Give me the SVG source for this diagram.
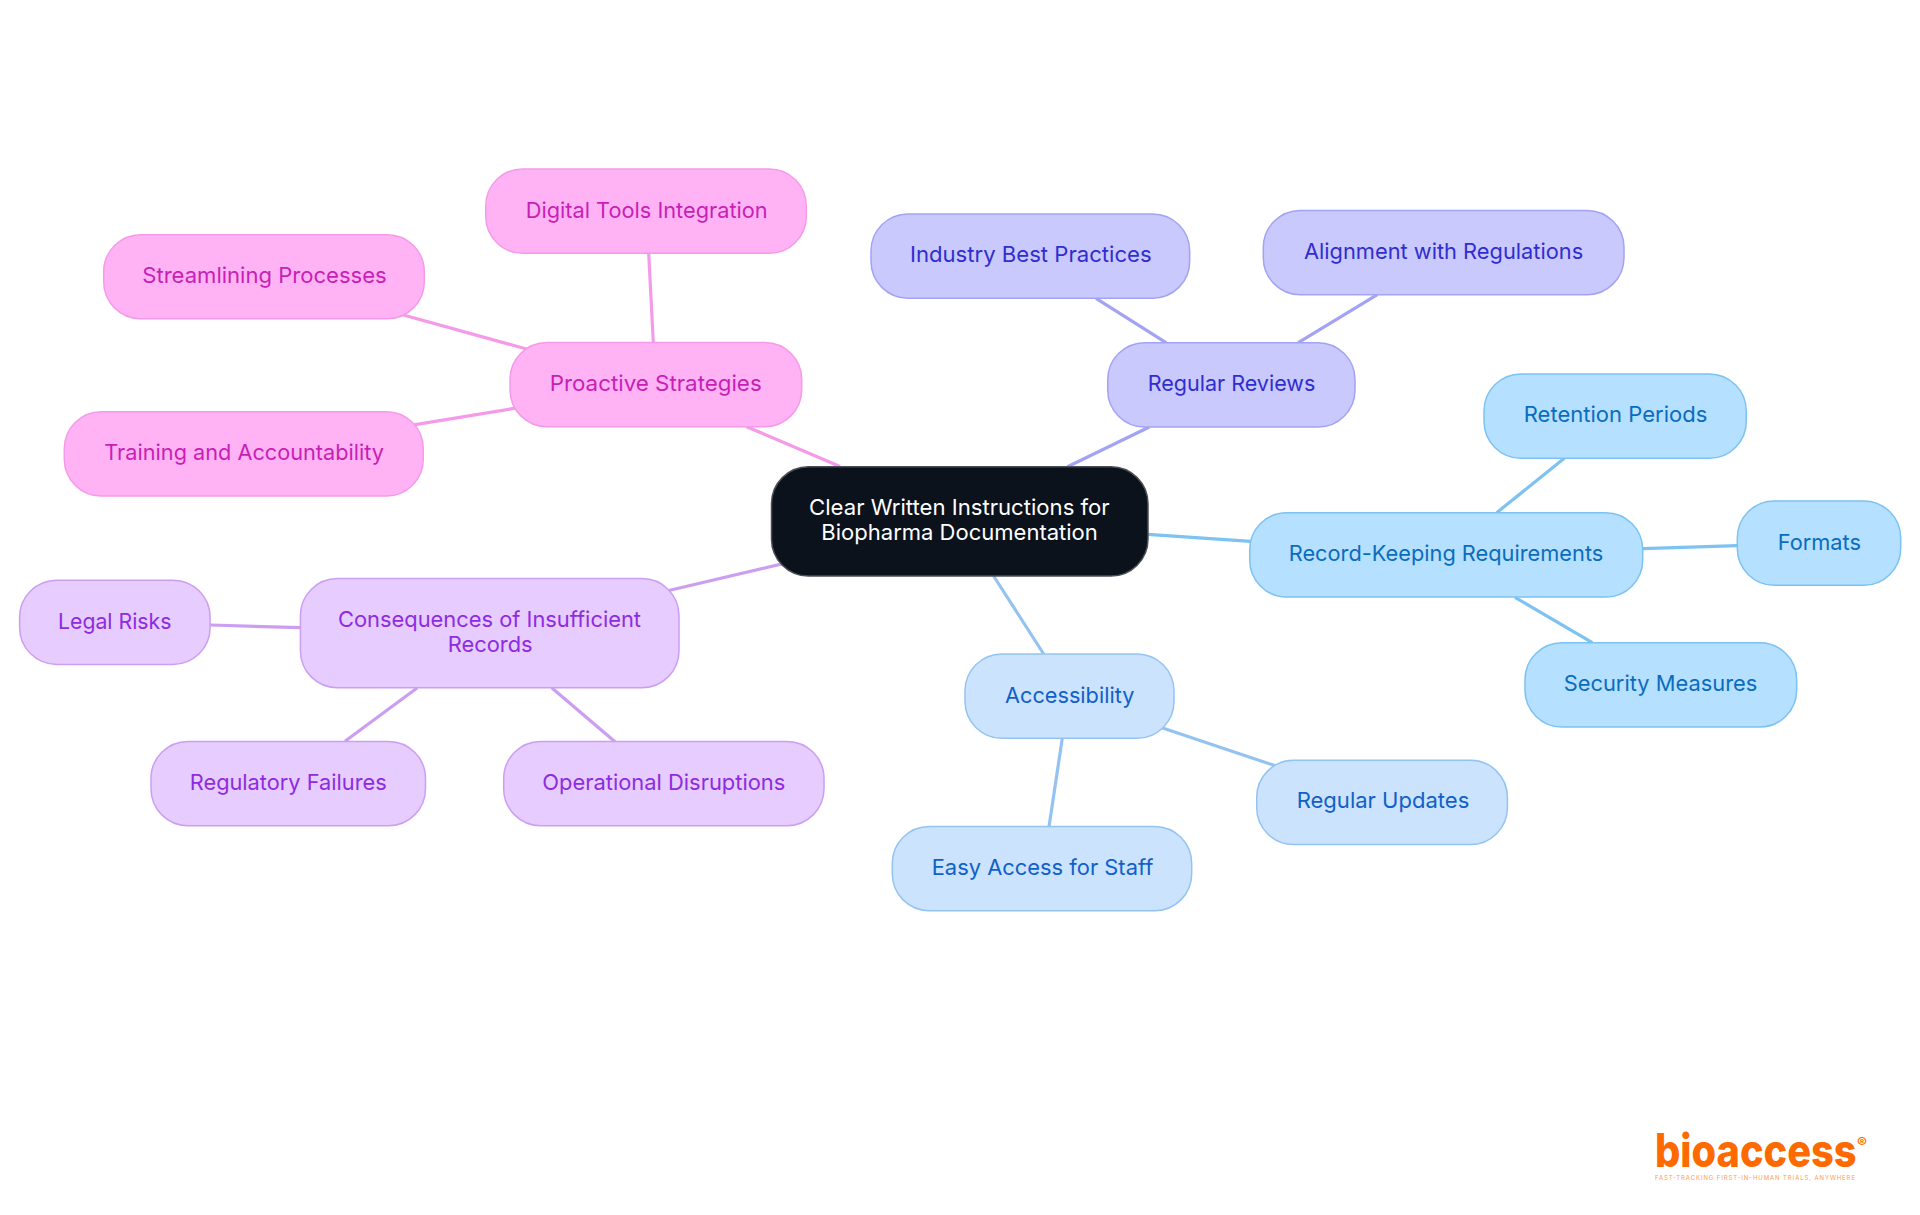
<svg xmlns="http://www.w3.org/2000/svg" width="1920" height="1215" viewBox="0 0 1920 1215">
<style>
.n{stroke-width:1.5}
.t{font-family:"Inter","Noto Sans",sans-serif;font-size:22px;text-anchor:middle;font-weight:400}
.pk rect{fill:#ffb3f5;stroke:#f59ae8}.pk text{fill:#c71fb5}
.in rect{fill:#c9c9fd;stroke:#a3a3f5}.in text{fill:#302dcf}
.sk rect{fill:#b5e0ff;stroke:#7cc2f2}.sk text{fill:#0b6cbd}
.bl rect{fill:#cce3fd;stroke:#94c3f2}.bl text{fill:#1060c9}
.pu rect{fill:#e6ccff;stroke:#cc9ef2}.pu text{fill:#8e2bdf}
#connectors line{stroke-width:3.2;fill:none}
.epk{stroke:#f59ae8}.ein{stroke:#a3a3f5}.esk{stroke:#7cc2f2}.ebl{stroke:#94c3f2}.epu{stroke:#cc9ef2}
</style>
<rect width="1920" height="1215" fill="#ffffff"/>
<g id="connectors">
<line class="epk" x1="746.7" y1="426.7" x2="840" y2="466.5"/>
<line class="epk" x1="648.7" y1="253.3" x2="653.3" y2="342.5"/>
<line class="epk" x1="390" y1="311.3" x2="540" y2="352.8"/>
<line class="epk" x1="400" y1="427.2" x2="530" y2="405.7"/>
<line class="ein" x1="1149.3" y1="427" x2="1067.5" y2="466.7"/>
<line class="ein" x1="1096" y1="298.3" x2="1166" y2="342.7"/>
<line class="ein" x1="1377.3" y1="294.7" x2="1298.3" y2="342.7"/>
<line class="esk" x1="1148" y1="534.3" x2="1250.7" y2="541.3"/>
<line class="esk" x1="1564.3" y1="458.3" x2="1496.7" y2="512.7"/>
<line class="esk" x1="1737.3" y1="545.7" x2="1642.7" y2="548.7"/>
<line class="esk" x1="1592.3" y1="642.7" x2="1515" y2="597.3"/>
<line class="ebl" x1="993.6" y1="576" x2="1043.7" y2="654"/>
<line class="ebl" x1="1290" y1="770.7" x2="1150" y2="723.7"/>
<line class="ebl" x1="1049" y1="826.7" x2="1062.3" y2="738.3"/>
<line class="epu" x1="655" y1="593.8" x2="795" y2="560.9"/>
<line class="epu" x1="210.3" y1="625" x2="300.4" y2="627.7"/>
<line class="epu" x1="345" y1="741.3" x2="417.4" y2="687.7"/>
<line class="epu" x1="615" y1="741.7" x2="551.7" y2="687.7"/>
</g>
<g id="center"><rect class="n" x="771.5" y="466.8" width="376.5" height="109.2" rx="37" fill="#0b121b" stroke="#4a4f57"/><text class="t" fill="#ffffff" x="959.4" y="515" textLength="300.6" lengthAdjust="spacingAndGlyphs">Clear Written Instructions for</text><text class="t" fill="#ffffff" x="959.6" y="540" textLength="276.5" lengthAdjust="spacingAndGlyphs">Biopharma Documentation</text></g>
<g id="proactive" class="pk"><rect class="n" x="510" y="342.5" width="291.7" height="84.2" rx="37"/><text class="t" x="655.7" y="391" textLength="212" lengthAdjust="spacingAndGlyphs">Proactive Strategies</text></g>
<g id="digital" class="pk"><rect class="n" x="485.7" y="169" width="320.6" height="84.3" rx="37"/><text class="t" x="646.7" y="218.3" textLength="242" lengthAdjust="spacingAndGlyphs">Digital Tools Integration</text></g>
<g id="streamlining" class="pk"><rect class="n" x="103.7" y="234.7" width="320.6" height="84" rx="37"/><text class="t" x="264.5" y="283.3" textLength="244.4" lengthAdjust="spacingAndGlyphs">Streamlining Processes</text></g>
<g id="training" class="pk"><rect class="n" x="64.3" y="411.7" width="359" height="84.3" rx="37"/><text class="t" x="244.2" y="460.3" textLength="279.7" lengthAdjust="spacingAndGlyphs">Training and Accountability</text></g>
<g id="reviews" class="in"><rect class="n" x="1107.7" y="342.7" width="247.3" height="84.3" rx="37"/><text class="t" x="1231.5" y="391" textLength="167.6" lengthAdjust="spacingAndGlyphs">Regular Reviews</text></g>
<g id="industry" class="in"><rect class="n" x="871" y="213.9" width="318.7" height="84.3" rx="37"/><text class="t" x="1030.8" y="262.3" textLength="241.7" lengthAdjust="spacingAndGlyphs">Industry Best Practices</text></g>
<g id="alignment" class="in"><rect class="n" x="1263.3" y="210.4" width="360.7" height="84.3" rx="37"/><text class="t" x="1443.6" y="259" textLength="279.3" lengthAdjust="spacingAndGlyphs">Alignment with Regulations</text></g>
<g id="record" class="sk"><rect class="n" x="1249.7" y="512.7" width="393" height="84.3" rx="37"/><text class="t" x="1446" y="561.3" textLength="314.6" lengthAdjust="spacingAndGlyphs">Record-Keeping Requirements</text></g>
<g id="retention" class="sk"><rect class="n" x="1484" y="374" width="262.3" height="84.3" rx="37"/><text class="t" x="1615.5" y="422" textLength="183.6" lengthAdjust="spacingAndGlyphs">Retention Periods</text></g>
<g id="formats" class="sk"><rect class="n" x="1737.3" y="501" width="163.4" height="84.3" rx="37"/><text class="t" x="1819.3" y="550" textLength="83.3" lengthAdjust="spacingAndGlyphs">Formats</text></g>
<g id="security" class="sk"><rect class="n" x="1525" y="642.7" width="271.7" height="84.3" rx="37"/><text class="t" x="1660.5" y="691" textLength="193.6" lengthAdjust="spacingAndGlyphs">Security Measures</text></g>
<g id="accessibility" class="bl"><rect class="n" x="965" y="654" width="209" height="84.3" rx="37"/><text class="t" x="1069.7" y="703" textLength="129.3" lengthAdjust="spacingAndGlyphs">Accessibility</text></g>
<g id="updates" class="bl"><rect class="n" x="1256.7" y="760.3" width="250.7" height="84.3" rx="37"/><text class="t" x="1383" y="808" textLength="172.7" lengthAdjust="spacingAndGlyphs">Regular Updates</text></g>
<g id="easy" class="bl"><rect class="n" x="892.3" y="826.4" width="299.4" height="84.3" rx="37"/><text class="t" x="1042.5" y="875" textLength="221.6" lengthAdjust="spacingAndGlyphs">Easy Access for Staff</text></g>
<g id="consequences" class="pu"><rect class="n" x="300.4" y="578.6" width="378.6" height="109.1" rx="37"/><text class="t" x="489.5" y="626.7" textLength="303" lengthAdjust="spacingAndGlyphs">Consequences of Insufficient</text><text class="t" x="490.2" y="651.7" textLength="84.8" lengthAdjust="spacingAndGlyphs">Records</text></g>
<g id="legal" class="pu"><rect class="n" x="19.6" y="580.2" width="190.5" height="84.2" rx="37"/><text class="t" x="114.7" y="629" textLength="113.4" lengthAdjust="spacingAndGlyphs">Legal Risks</text></g>
<g id="regulatory" class="pu"><rect class="n" x="151" y="741.5" width="274.5" height="84.2" rx="37"/><text class="t" x="288.2" y="790" textLength="196.9" lengthAdjust="spacingAndGlyphs">Regulatory Failures</text></g>
<g id="operational" class="pu"><rect class="n" x="503.7" y="741.5" width="320.3" height="84.2" rx="37"/><text class="t" x="663.8" y="790" textLength="243" lengthAdjust="spacingAndGlyphs">Operational Disruptions</text></g>
<g id="logo"><text x="1655" y="1167" font-family="Inter,sans-serif" font-weight="800" font-size="46" fill="#ff6a00" textLength="201.5" lengthAdjust="spacingAndGlyphs">bioaccess</text><text x="1857" y="1147.5" font-family="Inter,sans-serif" font-weight="600" font-size="14" fill="#ff6a00" textLength="10" lengthAdjust="spacingAndGlyphs">®</text><text x="1655" y="1179.5" font-family="Inter,sans-serif" font-size="6" fill="#ff9a55" textLength="200">FAST-TRACKING FIRST-IN-HUMAN TRIALS, ANYWHERE</text></g>
</svg>
